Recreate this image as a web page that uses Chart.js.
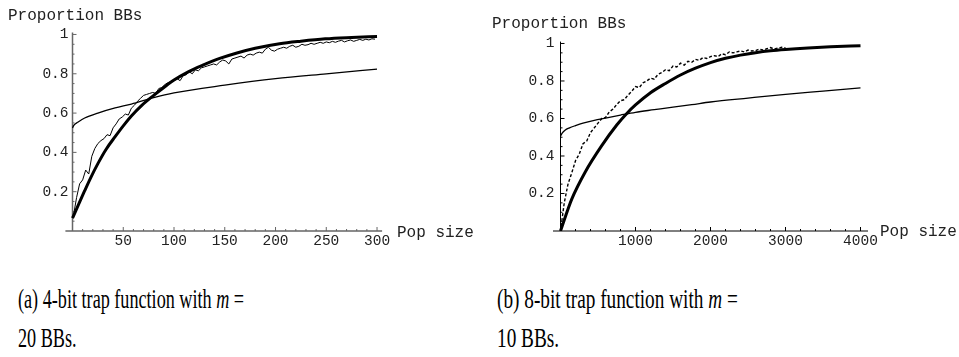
<!DOCTYPE html>
<html>
<head>
<meta charset="utf-8">
<script src="https://cdn.jsdelivr.net/npm/chart.js@4.4.1/dist/chart.umd.min.js"></script>
<style>
  body { margin: 0; background: #fff; width: 959px; height: 357px; position: relative; overflow: hidden; }
  canvas { position: absolute; top: 0; }
  .cap { position: absolute; font-family: "Liberation Serif", serif; font-size: 27px; line-height: 1; color: #000; white-space: nowrap; transform-origin: 0 50%; }
</style>
</head>
<body>
<canvas id="trap4" width="480" height="260" style="left:0"></canvas>
<canvas id="trap8" width="479" height="260" style="left:480px"></canvas>
<div class="cap" id="capA1" style="left:18px;top:286px">(a) 4-bit trap function with <i>m</i> =</div>
<div class="cap" id="capA2" style="left:18px;top:325px">20 BBs.</div>
<div class="cap" id="capB1" style="left:497px;top:286px">(b) 8-bit trap function with <i>m</i> =</div>
<div class="cap" id="capB2" style="left:497px;top:325px">10 BBs.</div>
<script>
// ---- (a) 4-bit trap, m = 20 ----
const thickA_x = [0, 6, 12, 18, 25, 33, 42, 50, 58, 68, 80, 90, 100, 114, 129, 145, 162, 180, 204, 225, 249, 275, 300];
const thickA_y = [0.066, 0.135, 0.205, 0.272, 0.343, 0.415, 0.48, 0.535, 0.585, 0.638, 0.69, 0.73, 0.768, 0.81, 0.845, 0.878, 0.906, 0.93, 0.953, 0.966, 0.978, 0.985, 0.99];
const thinA_x = [0, 1, 2, 5, 12, 25, 42, 58, 80, 100, 150, 200, 250, 300];
const thinA_y = [0.524, 0.535, 0.542, 0.553, 0.575, 0.60, 0.626, 0.646, 0.679, 0.703, 0.742, 0.775, 0.80, 0.824];
const expA_x = [1, 4, 7, 10, 13, 16, 19, 22, 25, 28, 31, 34, 37, 40, 43, 46, 49, 52, 55, 58,
  61, 64, 67, 70, 73, 76, 79, 82, 85, 88, 91, 94, 97, 100, 103, 106, 109, 112, 115, 118,
  121, 124, 127, 130, 133, 136, 139, 142, 145, 148, 151, 154, 157, 160, 163, 166, 169, 172, 175, 178,
  181, 184, 187, 190, 193, 196, 199, 202, 205, 208, 211, 214, 217, 220, 223, 226, 229, 232, 235, 238,
  241, 244, 247, 250, 253, 256, 259, 262, 265, 268, 271, 274, 277, 280, 283, 286, 289, 292, 295, 298];
const expA_y = [0.08, 0.17, 0.24, 0.26, 0.31, 0.29, 0.38, 0.42, 0.445, 0.46, 0.47, 0.49, 0.485, 0.525, 0.545, 0.57, 0.58, 0.595, 0.59, 0.625,
  0.64, 0.66, 0.675, 0.69, 0.695, 0.70, 0.705, 0.70, 0.725, 0.73, 0.745, 0.755, 0.76, 0.765, 0.775, 0.765, 0.79, 0.795, 0.81, 0.80,
  0.82, 0.815, 0.83, 0.835, 0.84, 0.845, 0.85, 0.845, 0.86, 0.87, 0.865, 0.85, 0.875, 0.88, 0.885, 0.89, 0.88, 0.895, 0.90, 0.895,
  0.905, 0.91, 0.905, 0.925, 0.935, 0.92, 0.915, 0.925, 0.93, 0.935, 0.93, 0.94, 0.945, 0.935, 0.94, 0.95, 0.945, 0.948, 0.955, 0.95,
  0.955, 0.96, 0.955, 0.962, 0.958, 0.965, 0.96, 0.966, 0.97, 0.962, 0.968, 0.972, 0.965, 0.97, 0.975, 0.97, 0.976, 0.972, 0.978, 0.976];
const xTicksA = [50, 100, 150, 200, 250, 300];

// ---- (b) 8-bit trap, m = 10 ----
const thickB_x = [0, 150, 330, 550, 750, 887, 1000, 1200, 1400, 1600, 1800, 2000, 2200, 2400, 2600, 2800, 3000, 3300, 3600, 4000];
const thickB_y = [0, 0.17, 0.315, 0.455, 0.565, 0.628, 0.672, 0.737, 0.787, 0.832, 0.868, 0.898, 0.921, 0.938, 0.951, 0.961, 0.968, 0.976, 0.982, 0.988];
const thinB_x = [0, 20, 60, 120, 200, 300, 450, 600, 800, 1000, 1250, 1500, 1750, 2000, 2500, 3000, 3500, 4000];
const thinB_y = [0.505, 0.52, 0.537, 0.55, 0.562, 0.575, 0.59, 0.602, 0.618, 0.633, 0.647, 0.661, 0.674, 0.688, 0.709, 0.729, 0.746, 0.763];
const expB_x = [0, 50, 100, 150, 200, 250, 300, 350, 400, 450, 500, 550, 600, 650, 700, 750, 800, 850, 900, 950,
  1000, 1050, 1100, 1150, 1200, 1250, 1300, 1350, 1400, 1450, 1500, 1550, 1600, 1650, 1700, 1750, 1800, 1850, 1900, 1950,
  2000, 2050, 2100, 2150, 2200, 2250, 2300, 2350, 2400, 2450, 2500, 2550, 2600, 2650, 2700, 2750, 2800, 2850, 2900, 2950, 3000];
const expB_y = [0, 0.15, 0.25, 0.31, 0.375, 0.41, 0.465, 0.48, 0.525, 0.55, 0.575, 0.60, 0.605, 0.635, 0.65, 0.675, 0.695, 0.70, 0.725, 0.745,
  0.77, 0.765, 0.79, 0.80, 0.815, 0.81, 0.835, 0.845, 0.86, 0.855, 0.88, 0.875, 0.895, 0.885, 0.905, 0.90, 0.915, 0.91, 0.925, 0.92,
  0.93, 0.935, 0.93, 0.945, 0.94, 0.955, 0.95, 0.955, 0.96, 0.955, 0.965, 0.96, 0.962, 0.97, 0.965, 0.972, 0.978, 0.97, 0.975, 0.98, 0.976];
const xTicksB = [1000, 2000, 3000, 4000];

const yTicks = [0.2, 0.4, 0.6, 0.8, 1];
const yTickLabels = ['0.2', '0.4', '0.6', '0.8', '1'];

const pts = (xs, ys) => xs.map((x, i) => ({ x: x, y: ys[i] }));

// Mathematica-like axes crossing at the origin
const mathAxes = {
    id: 'mathAxes',
    beforeDatasetsDraw(chart, args, o) {
        const { ctx, chartArea: a, scales: { x, y } } = chart;
        const x0 = x.getPixelForValue(0), y0 = y.getPixelForValue(0);
        ctx.save();
        ctx.strokeStyle = o.color;
        ctx.lineWidth = o.width;
        ctx.beginPath();
        ctx.moveTo(a.left, y0); ctx.lineTo(a.right, y0);
        ctx.moveTo(x0, y0); ctx.lineTo(x0, a.top);
        ctx.stroke();
        ctx.lineWidth = 1;
        ctx.beginPath();
        for (let i = 1; i * o.xMinor <= x.max; i++) {
            const px = x.getPixelForValue(i * o.xMinor);
            const major = o.xTicks.includes(i * o.xMinor);
            ctx.moveTo(px, y0); ctx.lineTo(px, y0 - (major ? 4 : 2));
        }
        for (let i = 1; i * 0.05 <= 1.001; i++) {
            const py = y.getPixelForValue(i * 0.05);
            const major = i % 4 === 0;
            ctx.moveTo(x0, py); ctx.lineTo(x0 + (major ? 4 : 2), py);
        }
        ctx.stroke();
        ctx.restore();
    },
    afterDraw(chart, args, o) {
        const { ctx, scales: { x, y } } = chart;
        const x0 = x.getPixelForValue(0), y0 = y.getPixelForValue(0);
        ctx.save();
        ctx.fillStyle = '#222';
        ctx.font = '14.5px "Liberation Mono", monospace';
        ctx.textBaseline = 'middle';
        ctx.textAlign = 'center';
        o.xTicks.forEach(v => ctx.fillText(String(v), x.getPixelForValue(v), y0 + 10.5));
        ctx.textAlign = 'right';
        yTicks.forEach((v, i) => ctx.fillText(yTickLabels[i], x0 - o.yGap, y.getPixelForValue(v)));
        ctx.textAlign = 'left';
        ctx.font = '16px "Liberation Mono", monospace';
        ctx.fillText('Proportion BBs', o.yTitle[0], o.yTitle[1]);
        ctx.fillText('Pop size', o.xTitle[0], o.xTitle[1]);
        ctx.restore();
    }
};

function panel(id, sets, xmin, xmax, pad, axes) {
    new Chart(document.getElementById(id), {
        type: 'line',
        data: { datasets: sets },
        options: {
            responsive: false,
            animation: false,
            devicePixelRatio: 1,
            layout: { padding: pad },
            scales: {
                x: { type: 'linear', min: xmin, max: xmax, display: false },
                y: { type: 'linear', min: 0, max: 1.01, display: false }
            },
            elements: { point: { radius: 0 } },
            plugins: { legend: { display: false }, tooltip: { enabled: false }, mathAxes: axes }
        },
        plugins: [mathAxes]
    });
}

const smooth = { cubicInterpolationMode: 'monotone', borderColor: '#000', fill: false };

panel('trap4', [
    { ...smooth, data: pts(thickA_x, thickA_y), borderWidth: 3 },
    { ...smooth, data: pts(thinA_x, thinA_y), borderWidth: 1.3 },
    { data: pts(expA_x, expA_y), borderColor: '#000', borderWidth: 1, tension: 0, fill: false }
], -7, 305, { left: 65.4, right: 97.9, top: 32.5, bottom: 29 },
   { color: '#666', width: 1.5, xTicks: xTicksA, xMinor: 10, yGap: 4, yTitle: [8, 16], xTitle: [397, 233] });

panel('trap8', [
    { ...smooth, data: pts(thickB_x, thickB_y), borderWidth: 3 },
    { ...smooth, data: pts(thinB_x, thinB_y), borderWidth: 1.3 },
    { data: pts(expB_x, expB_y), borderColor: '#000', borderWidth: 1.4, tension: 0, fill: false, borderDash: [3, 2] }
], -100, 4100, { left: 73, right: 91, top: 41.6, bottom: 29 },
   { color: '#000', width: 1, xTicks: xTicksB, xMinor: 200, yGap: 6, yTitle: [12, 24], xTitle: [400, 232] });

// squeeze the caption lines to the width of the printed captions
[['capA1', 'capA2', 226], ['capB1', 'capB2', 241]].forEach(([a, b, w]) => {
    const s = w / document.getElementById(a).offsetWidth;
    document.getElementById(a).style.transform = 'scaleX(' + s + ')';
    document.getElementById(b).style.transform = 'scaleX(' + s + ')';
});
</script>
</body>
</html>
